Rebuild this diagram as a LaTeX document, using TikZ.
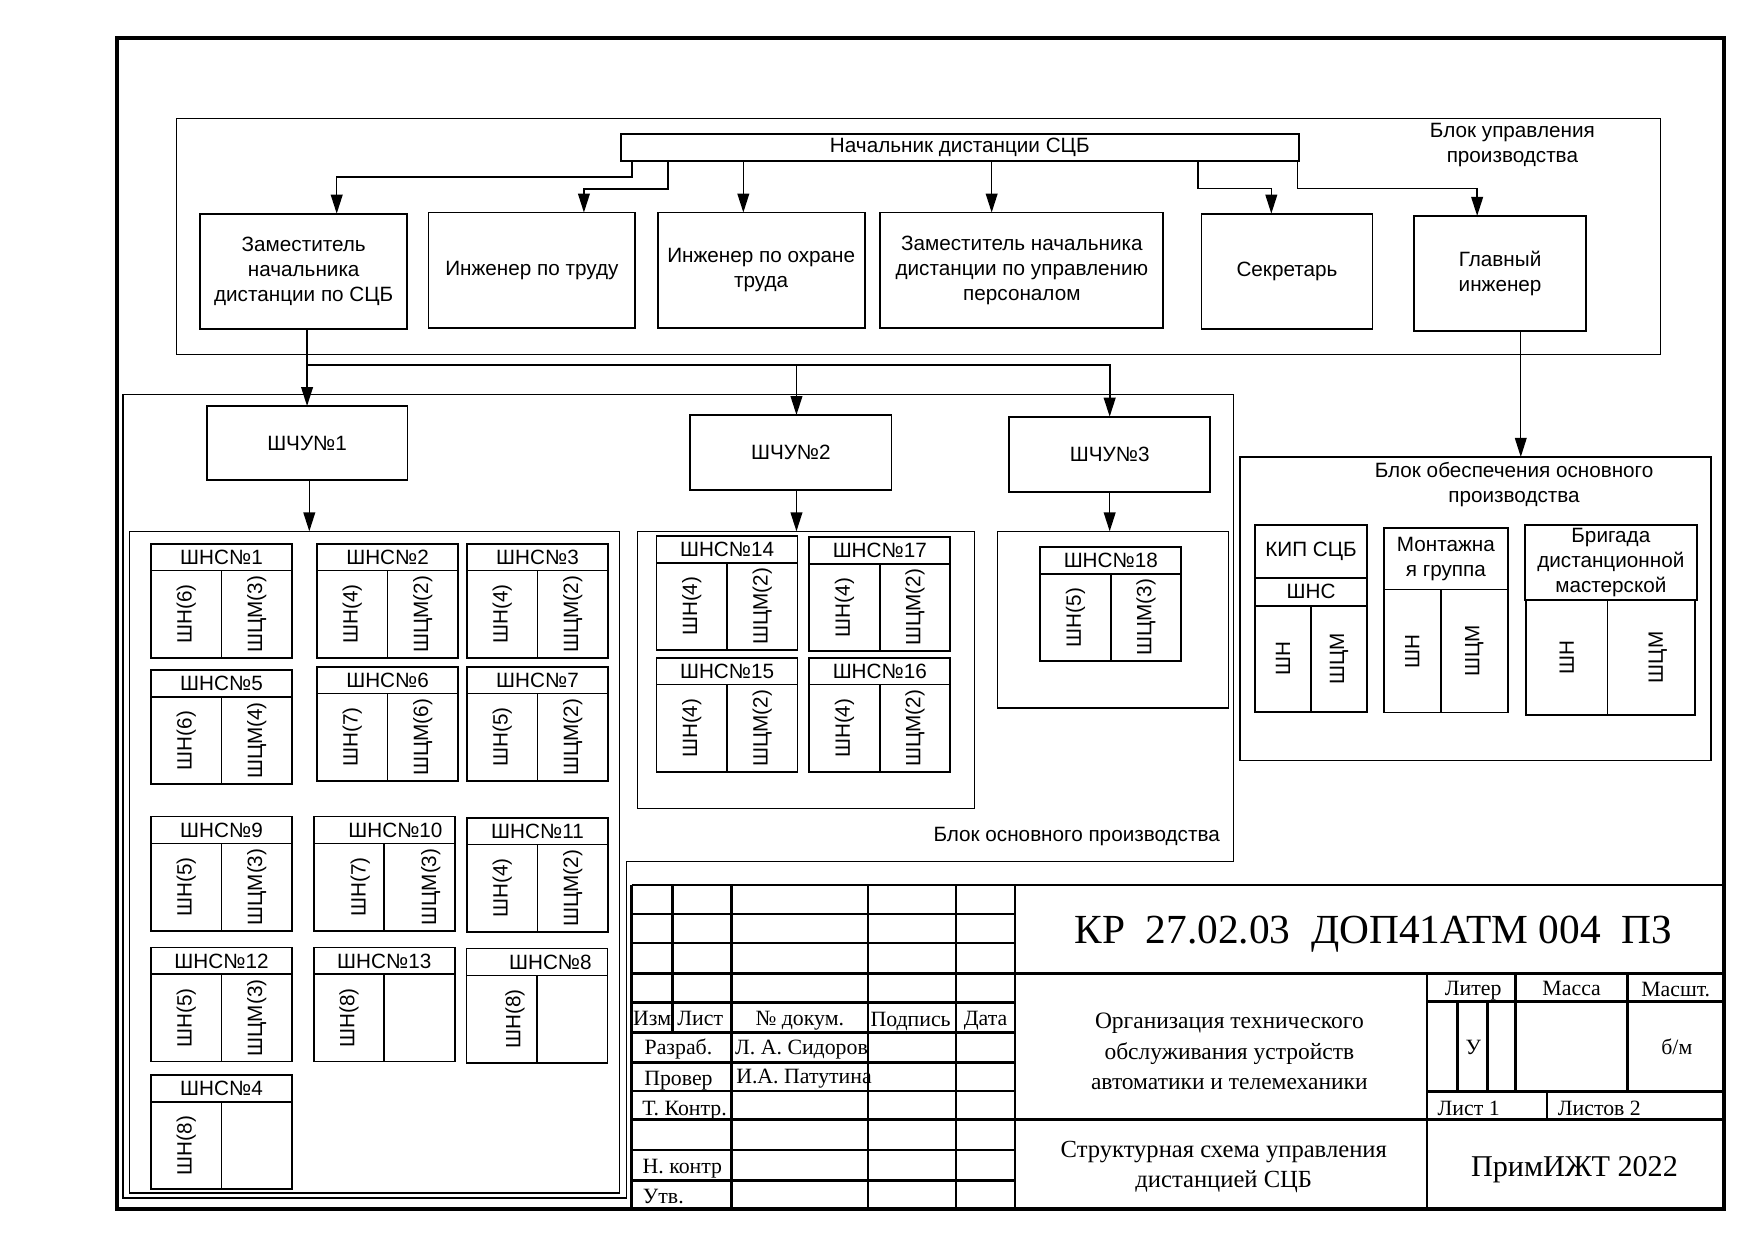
\documentclass[tikz,border=0pt]{standalone}
\usepackage{fontspec}
\setmainfont{Liberation Sans}
\newfontfamily\stampfont{Liberation Serif}
\usetikzlibrary{arrows.meta,positioning}

\begin{document}
\begin{tikzpicture}[
    x=1pt, y=-1pt,
    txt/.style={font=\fontsize{18.5}{22.5}\selectfont},
    box/.style={draw, line width=1.6pt, inner sep=0pt, outer sep=0pt,
        anchor=north west, align=center, txt},
    grpbox/.style={draw, line width=1.1pt, inner sep=0pt, outer sep=0pt, anchor=north west},
    unithead/.style={box, line width=1.5pt, minimum width=126pt, minimum height=24pt},
    unitcol/.style={box, line width=1.5pt, minimum width=63pt, minimum height=78pt},
    conn/.style={line width=1.4pt, -{Triangle[length=17pt,width=10.5pt]}},
    stamp/.style={line width=2.4pt},
    stxt/.style={font=\stampfont\fontsize{19.5}{22}\selectfont, inner sep=0pt, anchor=base}
]
    \useasboundingbox (0,0) rectangle (1568,1109);

    % --- frame ---
    \draw[line width=3.5pt] (105,34) rectangle (1541,1081);

    % --- 1. Block of management ---
    \node[grpbox, minimum width=1326.6pt, minimum height=211.2pt] (upr) at (158,105.8) {};
    \node[txt, align=center] (uprLbl) at (1352,130) {Блок управления\\производства};

    \node[box, minimum width=606pt, minimum height=24pt] (nach) at (555,120) {Начальник дистанции СЦБ};
    \node[box, minimum width=185pt, minimum height=103pt] (zam) at (179,191) {Заместитель\\начальника\\дистанции по СЦБ};
    \node[box, minimum width=185pt, minimum height=103pt] (trud) at (383,190) {Инженер по труду};
    \node[box, minimum width=185pt, minimum height=103pt] (ohr) at (588,190) {Инженер по охране\\труда};
    \node[box, minimum width=253pt, minimum height=103pt] (zper) at (787,190) {Заместитель начальника\\дистанции по управлению\\персоналом};
    \node[box, minimum width=153pt, minimum height=103pt] (sekr) at (1074,191) {Секретарь};
    \node[box, minimum width=154pt, minimum height=103pt] (glav) at (1264,193) {Главный\\инженер};

    \draw[conn] ([xshift=10pt]nach.south west) -- ++(0,14) -| ([xshift=29.5pt]zam.north);
    \draw[conn] ([xshift=42pt]nach.south west) -- ++(0,25) -| ([xshift=46.5pt]trud.north);
    \draw[conn] ([xshift=109.5pt]nach.south west) -- ([xshift=-16pt]ohr.north);
    \draw[conn] ([xshift=331.5pt]nach.south west) -- ([xshift=-27pt]zper.north);
    \draw[conn] ([xshift=516pt]nach.south west) -- ++(0,24.5) -| ([xshift=-14pt]sekr.north);
    \draw[conn] ([xshift=605pt]nach.south west) -- ++(0,24.5) -| ([xshift=-20.5pt]glav.north);

    % --- 2. Block of main production ---
    \draw[line width=1.1pt] (110,353) -- (1103,353) -- (1103,770) -- (560,770)
        -- (560,1071) -- (110,1071) -- cycle;
    \node[txt, anchor=east] (osnLbl) at (1094,748) {Блок основного производства};

    \node[box, line width=1.1pt, minimum width=179pt, minimum height=66pt] (shchu1) at (185,363) {ШЧУ№1};
    \node[box, minimum width=180pt, minimum height=67pt] (shchu2) at (617,371) {ШЧУ№2};
    \node[box, minimum width=180pt, minimum height=67pt] (shchu3) at (902,372.5) {ШЧУ№3};

    \coordinate (split) at (274.5,326);
    \coordinate (drop2) at ([xshift=5pt]shchu2.north);
    \draw[conn] ([xshift=3pt]zam.south) -- (shchu1.north);
    \draw[conn, line width=1.6pt] (split) -| (shchu3.north);
    \draw[conn] (split -| drop2) -- (drop2);

    \node[grpbox, minimum width=438pt, minimum height=591.5pt] (grpA) at (116,475) {};
    \node[grpbox, minimum width=301pt, minimum height=248pt] (grpB) at (570,475) {};
    \node[grpbox, minimum width=206pt, minimum height=158pt] (grpC) at (892,475) {};

    \draw[conn] ([xshift=2pt]shchu1.south) -- ([xshift=2pt]shchu1.south |- grpA.north);
    \draw[conn] ([xshift=5pt]shchu2.south) -- ([xshift=5pt]shchu2.south |- grpB.north);
    \draw[conn] (shchu3.south) -- (shchu3.south |- grpC.north);

    % units: number / left / top / text offset / labels
    \foreach \id/\ux/\uy/\dx/\la/\lb in {
        1/135/486/0/ШН(6)/ШЦМ(3), 2/283.5/486/0/ШН(4)/ШЦМ(2), 3/417.5/486/0/ШН(4)/ШЦМ(2),
        5/135/599/0/ШН(6)/ШЦМ(4), 6/283.5/596/0/ШН(7)/ШЦМ(6), 7/417.5/596/0/ШН(5)/ШЦМ(2),
        9/135/730/0/ШН(5)/ШЦМ(3), 10/280.5/730/20/ШН(7)/ШЦМ(3), 11/417.5/731/0/ШН(4)/ШЦМ(2),
        12/135/847/0/ШН(5)/ШЦМ(3), 13/280.5/847/0/ШН(8)/{}, 8/417/848/24/ШН(8)/{},
        4/135/961/0/ШН(8)/{},
        14/587/479/0/ШН(4)/ШЦМ(2), 17/723.5/480/0/ШН(4)/ШЦМ(2),
        15/587/588/0/ШН(4)/ШЦМ(2), 16/723.5/588/0/ШН(4)/ШЦМ(2),
        18/930/489/0/ШН(5)/ШЦМ(3)}
    {
        \node[unithead] (h\id) at (\ux,\uy) {\hspace*{\dx pt}ШНС№\id};
        \node[unitcol] (a\id) at (h\id.south west) {\hspace*{\dx pt}\rotatebox{90}{\la}};
        \node[unitcol] (b\id) at (h\id.south) {\hspace*{\dx pt}\rotatebox{90}{\lb}};
    }

    % --- 3. Block of support ---
    \node[grpbox, minimum width=421pt, minimum height=271pt] (obesp) at (1108.5,408.5) {};
    \node[txt, align=center] (obespLbl) at (1353.5,433) {Блок обеспечения основного\\производства};
    \draw[conn, line width=1pt] ([xshift=18.5pt]glav.south) -- ([xshift=18.5pt]glav.south |- obesp.north);

    \node[box, minimum width=100pt, minimum height=47.5pt] (kip) at (1122,469) {КИП СЦБ};
    \node[box, minimum width=100pt, minimum height=25pt] (kipShns) at (kip.south west) {ШНС};
    \node[box, minimum width=50pt, minimum height=95pt] (kipA) at (kipShns.south west) {\rotatebox{90}{ШН}};
    \node[box, minimum width=50pt, minimum height=95pt] (kipB) at (kipShns.south) {\rotatebox{90}{ШЦМ}};

    \node[box, minimum width=111pt, minimum height=55pt] (mont) at (1237,472) {Монтажна\\я группа};
    \node[box, minimum width=51pt, minimum height=110pt] (montA) at (mont.south west) {\rotatebox{90}{ШН}};
    \node[box, minimum width=60pt, minimum height=110pt] (montB) at (montA.north east) {\rotatebox{90}{ШЦМ}};

    \node[box, minimum width=154pt, minimum height=67.5pt] (brig) at (1363,469) {Бригада\\дистанционной\\мастерской};
    \node[box, minimum width=73pt, minimum height=102.5pt] (brigA) at ([xshift=1pt]brig.south west) {\rotatebox{90}{ШН}};
    \node[box, minimum width=78pt, minimum height=102.5pt] (brigB) at (brigA.north east) {\hspace*{12pt}\rotatebox{90}{ШЦМ}};

    % --- 4. Title block ---
    \foreach \ry in {817,843,870,896.4,923,949.6,975.3,1001,1028,1055}
        \draw[stamp] (564.7,\ry) -- (907.4,\ry);
    \draw[stamp] (564.7,791) -- (1541,791);
    \draw[stamp] (907.4,870) -- (1541,870);
    \draw[stamp] (907.4,1001) -- (1541,1001);
    \foreach \cx in {564.7,654,776,854.6,907.4}
        \draw[stamp] (\cx,791) -- (\cx,1081);
    \draw[stamp] (601,791) -- (601,923);
    \draw[stamp] (1275.7,870) -- (1275.7,1081);
    \draw[stamp] (1275.7,895.5) -- (1541,895.5);
    \draw[stamp] (1275.7,976) -- (1541,976);
    \foreach \cx in {1355,1454.8}
        \draw[stamp] (\cx,870) -- (\cx,976);
    \foreach \cx in {1303,1330}
        \draw[stamp] (\cx,895.5) -- (\cx,976);
    \draw[stamp] (1383,976) -- (1383,1001);

    \node[stxt] (izm) at (583,917) {Изм};
    \node[stxt] (list) at (626,917) {Лист};
    \node[stxt] (ndoc) at (715,917) {№ докум.};
    \node[stxt] (podp) at (814,918) {Подпись};
    \node[stxt] (data) at (881,917) {Дата};
    \node[stxt] (razr) at (606.5,943) {Разраб.};
    \node[stxt, anchor=base west] (sidorov) at (657,943) {Л. А. Сидоров};
    \node[stxt] (prov) at (606.5,970) {Провер};
    \node[stxt, anchor=base west] (patut) at (658,968.5) {И.А. Патутина};
    \node[stxt] (tkontr) at (612,997) {Т. Контр.};
    \node[stxt] (nkontr) at (610,1049) {Н. контр};
    \node[stxt] (utv) at (593,1075.5) {Утв.};

    \node[stxt, font=\stampfont\fontsize{37}{40}\selectfont] (code) at (1227.7,843.3)
        {КР\ \ 27.02.03\ \ ДОП41АТМ 004\ \ ПЗ};
    \node[stxt, anchor=center, align=center, font=\stampfont\fontsize{21}{27}\selectfont] (topic)
        at (1099,940) {Организация технического\\обслуживания устройств\\автоматики и телемеханики};
    \node[stxt, anchor=center, align=center, font=\stampfont\fontsize{22}{27}\selectfont] (schema)
        at (1094,1043) {Структурная схема управления\\дистанцией СЦБ};
    \node[stxt, font=\stampfont\fontsize{27}{30}\selectfont] (org) at (1407.5,1052) {ПримИЖТ 2022};

    \node[stxt] (liter) at (1317,890) {Литер};
    \node[stxt] (massa) at (1405,889.5) {Масса};
    \node[stxt] (masht) at (1498,890.5) {Масшт.};
    \node[stxt] (litU) at (1317,943) {У};
    \node[stxt] (scale) at (1499,943) {б/м};
    \node[stxt, anchor=base west] (sheet) at (1285,996.8) {Лист 1};
    \node[stxt, anchor=base west] (sheets) at (1392.5,996.8) {Листов 2};
\end{tikzpicture}
\end{document}
